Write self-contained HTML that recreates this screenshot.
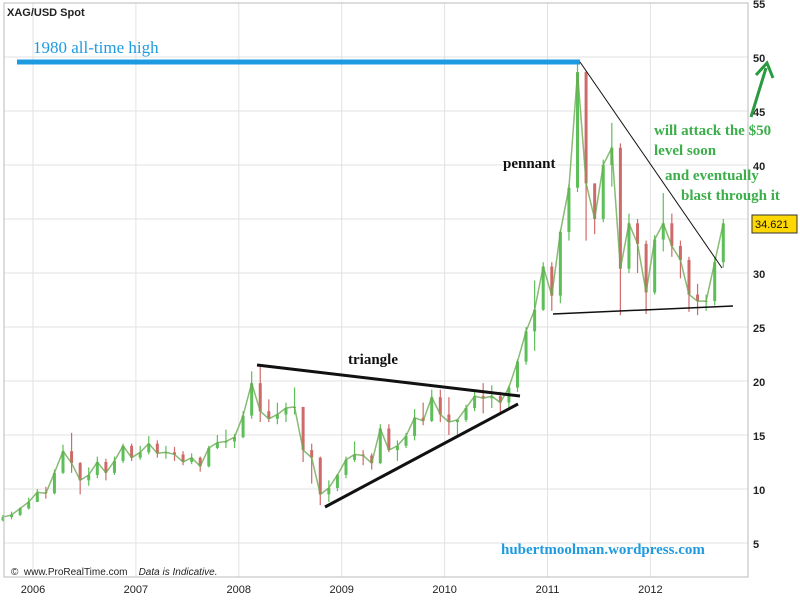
<!DOCTYPE html>
<html><head><meta charset="utf-8"><style>
body{margin:0;background:#fff;}
svg{display:block;font-family:"Liberation Sans",sans-serif;}
</style></head><body>
<svg id="chart" width="800" height="601">
<g id="grid"></g>
<g id="candles"></g>
<g id="axes"></g>
<rect x="4" y="3" width="744" height="574" fill="none" stroke="#bbb"/>
<text x="7" y="16" font-size="11" font-weight="bold" fill="#222">XAG/USD Spot</text>
<line x1="17" y1="62" x2="580" y2="62" stroke="#1e9be0" stroke-width="5"/>
<text x="33" y="53" font-family="Liberation Serif,serif" font-size="17" fill="#1e9be0">1980 all-time high</text>
<line x1="580" y1="62" x2="722" y2="268" stroke="#111" stroke-width="1"/>
<line x1="553" y1="314" x2="733" y2="306" stroke="#111" stroke-width="1.5"/>
<line x1="257" y1="365" x2="520" y2="396" stroke="#111" stroke-width="3"/>
<line x1="325" y1="507" x2="518" y2="404" stroke="#111" stroke-width="3"/>
<text x="348" y="364" font-family="Liberation Serif,serif" font-weight="bold" font-size="15" fill="#111">triangle</text>
<text x="503" y="168" font-family="Liberation Serif,serif" font-weight="bold" font-size="15" fill="#111">pennant</text>
<g font-family="Liberation Serif,serif" font-weight="bold" font-size="15" fill="#3cae4a">
<text x="654" y="135">will attack the $50</text>
<text x="654" y="155">level soon</text>
<text x="665" y="180">and eventually</text>
<text x="681" y="200">blast through it</text>
</g>
<line x1="751" y1="117" x2="766" y2="68" stroke="#2a9a40" stroke-width="3"/>
<polyline points="756,75 767,63 773,78" fill="none" stroke="#2a9a40" stroke-width="3"/>
<rect x="752" y="215" width="45" height="18" fill="#ffd800" stroke="#333"/>
<text x="755" y="228" font-size="11" fill="#111">34.621</text>
<text x="11" y="575" font-size="10" fill="#222">© &#160;www.ProRealTime.com &#160;&#160; <tspan font-style="italic">Data is Indicative.</tspan></text>
<text x="501" y="554" font-family="Liberation Serif,serif" font-weight="bold" font-size="15" fill="#1e9be0">hubertmoolman.wordpress.com</text>
</svg>
<script>
const years=[2006,2007,2008,2009,2010,2011,2012];
const yTicks=[5,10,15,20,25,30,35,40,45,50,55];
const startYear=2005, startMonth=8;
const closes=[7.4,7.6,8.2,8.8,9.7,9.6,11.5,13.5,12.4,10.8,11.3,12.5,11.5,12.6,14.0,12.9,13.4,14.2,13.3,13.4,13.2,12.5,12.9,12.1,13.8,14.3,14.4,14.8,16.8,19.8,17.2,16.5,16.9,17.5,17.6,13.6,12.9,9.5,10.1,11.3,12.7,13.2,13.1,12.4,15.6,13.6,14.0,14.9,16.6,16.3,18.5,16.9,16.2,16.4,17.5,18.6,18.4,18.6,18.0,19.4,21.8,24.6,26.6,30.6,27.9,33.8,37.9,48.6,38.3,35.0,40.0,41.6,30.4,34.6,32.7,28.2,33.1,34.6,32.5,31.2,28.0,27.4,27.4,31.0,34.6];
const highs=[7.6,7.9,8.3,9.2,10.0,10.2,11.8,14.1,15.2,12.5,12.0,13.0,12.8,13.0,14.2,14.2,14.0,14.9,14.5,14.0,13.9,13.5,13.3,13.0,14.0,15.0,15.5,15.1,17.2,20.9,21.3,18.3,18.0,18.0,19.4,17.6,14.2,13.0,10.8,11.4,13.0,14.4,13.6,13.3,16.0,16.0,14.5,15.2,17.4,18.0,19.2,19.2,18.5,16.5,17.8,19.0,19.8,19.6,19.0,19.6,22.0,25.0,29.3,31.0,31.0,34.0,38.2,49.5,48.7,38.2,40.5,43.9,42.0,35.5,35.0,33.0,33.5,37.4,35.5,33.0,31.5,29.0,28.0,31.5,35.0];
const lows=[7.0,7.2,7.5,8.1,8.8,9.1,9.5,11.4,11.5,9.5,10.3,11.0,10.8,11.3,12.4,12.6,12.7,13.2,12.9,12.8,12.6,12.2,12.3,11.6,12.0,13.7,13.8,13.8,14.7,16.5,16.2,16.2,16.0,16.2,16.9,12.5,10.5,8.5,8.8,9.8,11.0,12.5,12.2,11.8,12.3,13.4,12.6,13.8,14.5,15.9,16.2,16.2,15.0,14.9,16.2,17.2,17.0,17.5,17.0,17.5,19.0,21.5,22.8,26.5,26.5,27.2,33.0,37.5,33.0,33.6,34.7,38.0,26.1,30.0,30.0,26.2,28.0,32.0,31.5,29.5,26.4,26.1,26.5,27.0,30.5];
const NS="http://www.w3.org/2000/svg";
function xScale(t){return 33+(t-2006)*102.9;}
function yScale(v){return 543-(v-5)*10.8;}
function mk(tag,attrs,parent){const e=document.createElementNS(NS,tag);for(const k in attrs)e.setAttribute(k,attrs[k]);parent.appendChild(e);return e;}
const grid=document.getElementById('grid'),axes=document.getElementById('axes'),cg=document.getElementById('candles');
yTicks.forEach(v=>{
  const y=yScale(v);
  const l=mk('line',{x1:4,x2:748,y1:y,y2:y,stroke:'#e2e2e2'},grid);
  
  
  const t=mk('text',{x:753,y:y+5,'font-size':11,'font-weight':'bold',fill:'#222'},axes);
  t.textContent=v;
  
  
});
years.forEach(yr=>{
  const x=xScale(yr);
  const l=mk('line',{x1:x,x2:x,y1:3,y2:577,stroke:'#e2e2e2'},grid);
  
  
  const t=mk('text',{x:x,y:593,'font-size':11,fill:'#222','text-anchor':'middle'},axes);
  t.textContent=yr;
  
  
});
let prev=closes[0]-0.3;
let pts=[];
closes.forEach((c,i)=>{
  const t=startYear+(startMonth+i+0.5)/12;
  const x=xScale(t);
  const col=c>=prev?'#5cbf58':'#cf6a6a';
  const w=mk('line',{x1:x,x2:x,y1:yScale(highs[i]),y2:yScale(lows[i]),stroke:col,'stroke-width':1.2},cg);
  
  
  const top=yScale(Math.max(c,prev)),bot=yScale(Math.min(c,prev));
  const b=mk('rect',{x:x-1.5,y:top,width:3,height:Math.max(1,bot-top),fill:col},cg);
  
  
  pts.push(x+','+yScale(c));
  prev=c;
});
const pl=mk('polyline',{points:pts.join(' '),fill:'none',stroke:'#6aaa50','stroke-width':1.5,opacity:0.8},cg);


</script>
</body></html>
